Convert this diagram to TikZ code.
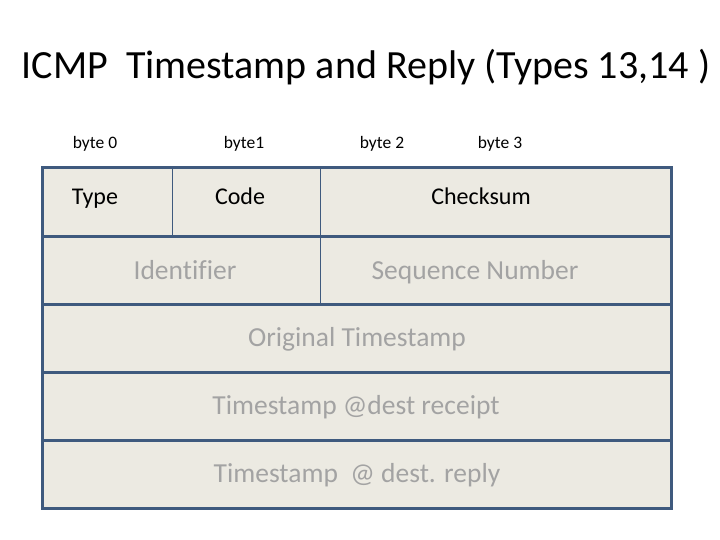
\documentclass[tikz,border=0pt]{standalone}
\usepackage{fontspec}
\setmainfont{Carlito}[Ligatures=NoCommon]
\definecolor{frameblue}{HTML}{3F5A7E}
\definecolor{cellfill}{HTML}{ECEAE2}
\definecolor{fieldgray}{HTML}{A3A3A3}

\begin{document}
\begin{tikzpicture}[x=1pt,y=-1pt,
  rowbox/.style={draw=frameblue,fill=cellfill,line width=3pt},
  splitline/.style={draw=frameblue,line width=1pt},
  bytetxt/.style={anchor=base,font=\fontsize{17.5}{20}\selectfont},
  headtxt/.style={anchor=base,font=\fontsize{24}{28}\selectfont},
  graytxt/.style={anchor=base,text=fieldgray,font=\fontsize{27.5}{32}\selectfont}]
\useasboundingbox (0,0) rectangle (720,540);
                                    \coordinate (A) at (42,168);
                                    \coordinate (B) at (671,236);
                                    \coordinate (C) at (42,236);
                                    \coordinate (D) at (671,304);
                                    \coordinate (E) at (42,304);
                                    \coordinate (F) at (671,372);
                                    \coordinate (G) at (42,372);
                                    \coordinate (H) at (671,440);
                                    \coordinate (I) at (42,440);
                                    \coordinate (J) at (671,508);
                                    \coordinate (K) at (172,168);
                                    \coordinate (L) at (172,236);
                                    \coordinate (M) at (320,168);
                                    \coordinate (N) at (320,304);

                                    \draw[rowbox] (A) rectangle (B);
                                    \draw[rowbox] (C) rectangle (D);
                                    \draw[rowbox] (E) rectangle (F);
                                    \draw[rowbox] (G) rectangle (H);
                                    \draw[rowbox] (I) rectangle (J);

                                    \draw[splitline] (K) -- (L);
                                    \draw[splitline] (M) -- (N);

                                    \node[anchor=base] (title) at (366,79) {\fontsize{40}{44}\selectfont ICMP\ \ Timestamp and Reply (Types 13,14 )};

                                    \node[bytetxt] (b0) at (95,149) {byte 0};
                                    \node[bytetxt] (b1) at (244,149) {byte1};
                                    \node[bytetxt] (b2) at (382,149) {byte 2};
                                    \node[bytetxt] (b3) at (500,149) {byte 3};

                                    \node[headtxt] (type) at (95,205) {Type};
                                    \node[headtxt] (code) at (240,205) {Code};
                                    \node[headtxt] (csum) at (481,205) {Checksum};

                                    \node[graytxt] (ident) at (185,279) {Identifier};
                                    \node[graytxt] (seqno) at (475,279) {Sequence Number};
                                    \node[graytxt] (orig) at (357,346) {Original Timestamp};
                                    \node[graytxt] (recv) at (356,414) {Timestamp @dest receipt};
                                    \node[graytxt] (repl) at (357,482) {Timestamp\ \ @ dest. reply};
\end{tikzpicture}
\end{document}
